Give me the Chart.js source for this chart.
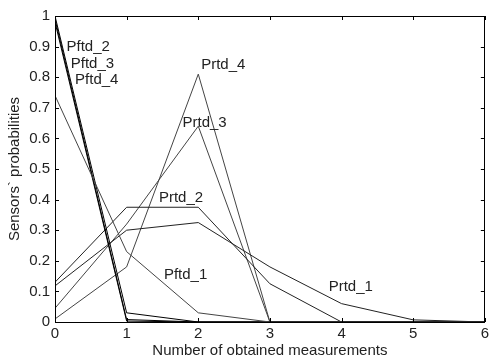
<!DOCTYPE html>
<html>
<head>
<meta charset="utf-8">
<script src="https://cdn.jsdelivr.net/npm/chart.js@4.4.1/dist/chart.umd.min.js"></script>
<style>
  html, body { margin: 0; padding: 0; background: #fff; }
  #wrap { width: 492px; height: 360px; }
</style>
</head>
<body>
<div id="wrap"><canvas id="mycanvas" width="492" height="360"></canvas></div>
<script>
// measurement counts on the x axis
var measurements = [0, 1, 2, 3, 4, 5, 6];

var pftd1 = [0.74, 0.23, 0.03, 0, 0, 0, 0];
var pftd2 = [1.0, 0.03, 0, 0, 0, 0, 0];
var pftd3 = [0.99, 0.008, 0, 0, 0, 0, 0];
var pftd4 = [0.98, 0.003, 0, 0, 0, 0, 0];
var prtd1 = [0.118, 0.30, 0.325, 0.18, 0.06, 0.007, 0];
var prtd2 = [0.13, 0.375, 0.375, 0.125, 0, 0, 0];
var prtd3 = [0.045, 0.32, 0.64, 0, 0, 0, 0];
var prtd4 = [0.01, 0.18, 0.81, 0, 0, 0, 0];

var seriesNames = ['Pftd_1', 'Pftd_2', 'Pftd_3', 'Pftd_4', 'Prtd_1', 'Prtd_2', 'Prtd_3', 'Prtd_4'];
var seriesValues = [pftd1, pftd2, pftd3, pftd4, prtd1, prtd2, prtd3, prtd4];

// where the text labels sit (data coords)
var labelX = [1.52, 0.16, 0.22, 0.28, 3.82, 1.45, 1.78, 2.04];
var labelY = [0.155, 0.9, 0.845, 0.79, 0.115, 0.405, 0.65, 0.84];

var yTicks = [0, 0.1, 0.2, 0.3, 0.4, 0.5, 0.6, 0.7, 0.8, 0.9, 1];

var lineColors = ['#444', '#000', '#000', '#000', '#222', '#222', '#444', '#444'];

var FONT = '"Liberation Sans", Arial, sans-serif';

var datasets = [];
for (var i in seriesNames) {
	var pts = [];
	for (var j in measurements) {
		pts.push({ x: measurements[j], y: seriesValues[i][j] });
	}
	datasets.push({
		label: seriesNames[i],
		data: pts,
		borderColor: lineColors[i],
		borderWidth: 1,
		pointRadius: 0,
		fill: false,
		tension: 0
	});
}

// MATLAB-ish box with inward ticks and in-plot text labels
var boxPlugin = {
	id: 'box',
	afterDatasetsDraw: function(chart) {
		var ctx = chart.ctx;
		var a = chart.chartArea;
		var xs = chart.scales.x, ys = chart.scales.y;
		ctx.save();
		ctx.strokeStyle = '#000';
		ctx.lineWidth = 1;
		ctx.strokeRect(Math.round(a.left) + 0.5, Math.round(a.top) + 0.5,
			Math.round(a.right - a.left) - 1, Math.round(a.bottom - a.top));
		ctx.beginPath();
		for (var k in measurements) {
			var px = Math.round(xs.getPixelForValue(measurements[k])) + 0.5;
			ctx.moveTo(px, a.bottom); ctx.lineTo(px, a.bottom - 4);
			ctx.moveTo(px, a.top); ctx.lineTo(px, a.top + 4);
		}
		for (var t in yTicks) {
			var py = Math.round(ys.getPixelForValue(yTicks[t])) + 0.5;
			ctx.moveTo(a.left, py); ctx.lineTo(a.left + 4, py);
			ctx.moveTo(a.right, py); ctx.lineTo(a.right - 4, py);
		}
		ctx.stroke();

		ctx.fillStyle = '#222';
		ctx.font = '15px ' + FONT;
		ctx.textAlign = 'left';
		ctx.textBaseline = 'middle';
		for (var n in seriesNames) {
			ctx.fillText(seriesNames[n], xs.getPixelForValue(labelX[n]), ys.getPixelForValue(labelY[n]));
		}
		ctx.restore();
	}
};

var ctx = document.getElementById('mycanvas');

var lineGraph = new Chart(ctx, {
	type: 'line',
	data: { datasets: datasets },
	options: {
		responsive: false,
		animation: false,
		layout: { padding: { top: 16, right: 3, left: 6, bottom: 0 } },
		plugins: { legend: { display: false }, tooltip: { enabled: false } },
		scales: {
			x: {
				type: 'linear',
				min: 0, max: 6,
				grid: { display: false, tickLength: 0 },
				border: { display: false },
				ticks: { stepSize: 1, color: '#222', padding: 3, font: { size: 15, family: FONT } },
				title: { display: true, text: 'Number of obtained measurements', color: '#222', padding: { top: 0, bottom: 0 }, font: { size: 15, family: FONT } },
				afterFit: function(s) { s.height = 38; }
			},
			y: {
				min: 0, max: 1,
				grid: { display: false, tickLength: 0 },
				border: { display: false },
				afterBuildTicks: function(s) { s.ticks = yTicks.map(function(v) { return { value: v }; }); },
				ticks: {
					color: '#222', padding: 5, font: { size: 15, family: FONT },
					callback: function(v) { return String(Math.round(v * 10) / 10); }
				},
				title: { display: true, text: 'Sensors` probabilities', color: '#222', padding: { top: 0, bottom: 0 }, font: { size: 15, family: FONT } },
				afterFit: function(s) { s.width = 49; }
			}
		}
	},
	plugins: [boxPlugin]
});
</script>
</body>
</html>
